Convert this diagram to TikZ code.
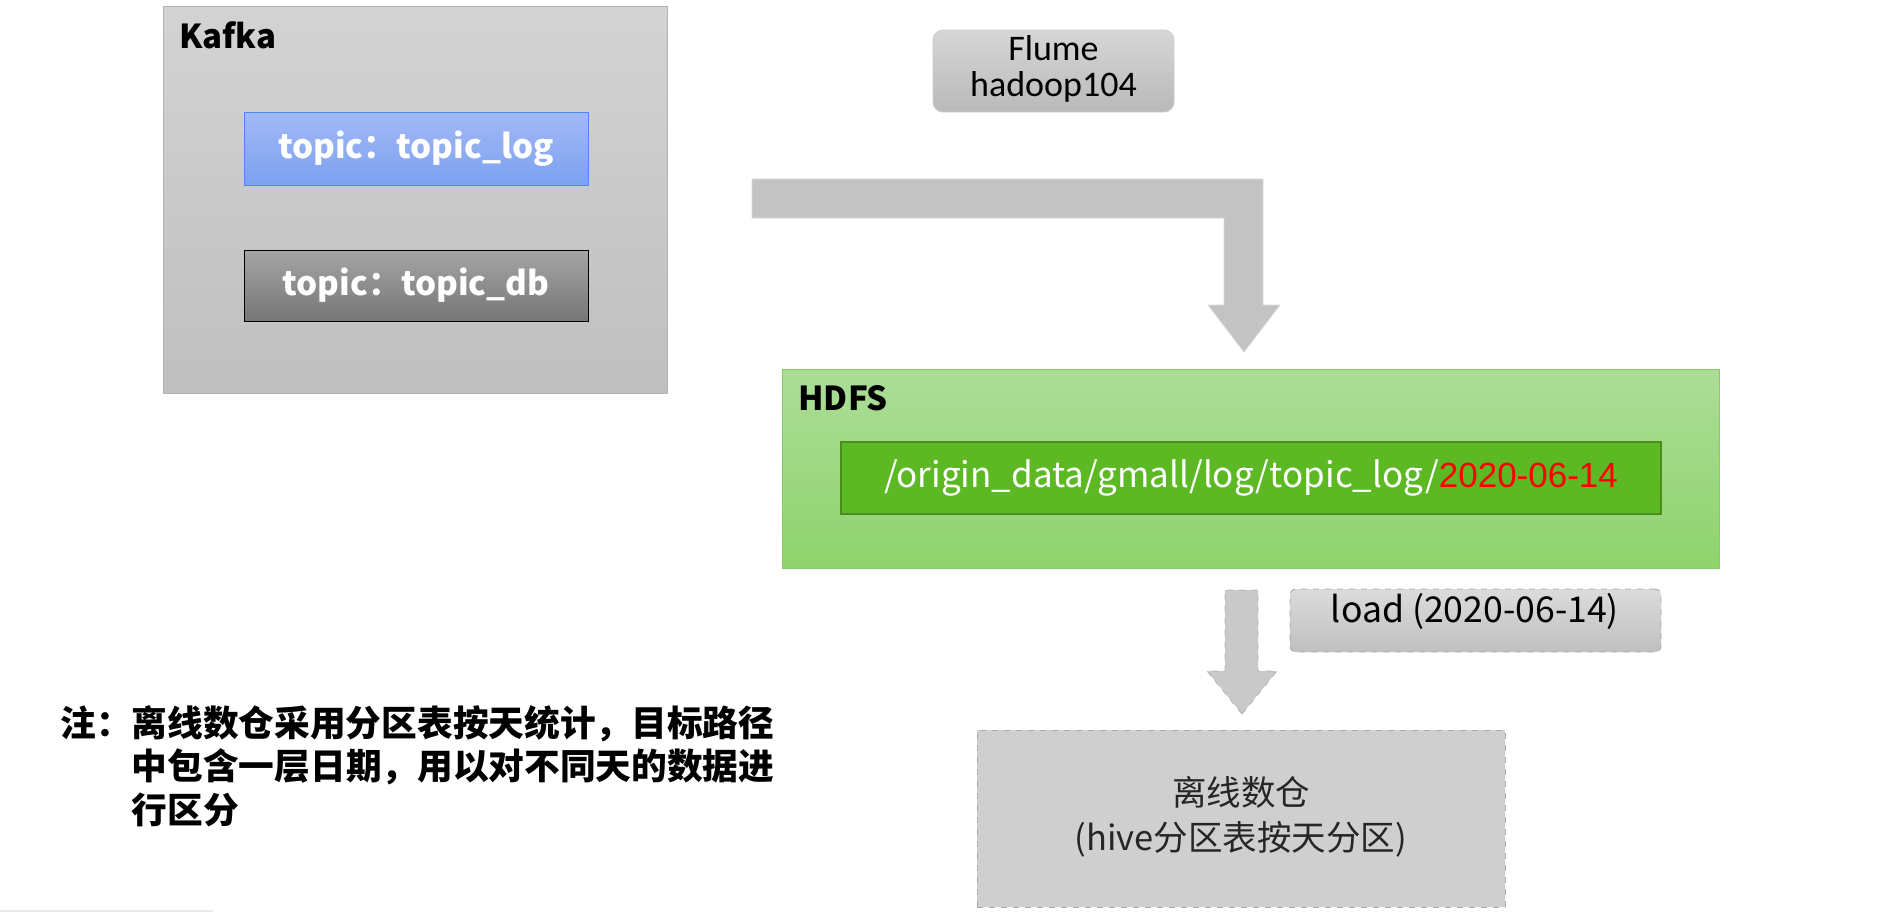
\documentclass[tikz,border=0pt]{standalone}
\usepackage{fontspec}
\setmainfont{Noto Sans CJK SC}
\newfontfamily\calfont{Carlito}
\newfontfamily\arialfont{Liberation Sans}
\usetikzlibrary{calc, positioning}

\definecolor{kafkaT}{HTML}{D3D3D3}
\definecolor{kafkaB}{HTML}{BFBFBF}
\definecolor{logT}{HTML}{A3B9F5}
\definecolor{logB}{HTML}{7BA1F0}
\definecolor{logL}{HTML}{4F86F7}
\definecolor{dbT}{HTML}{A5A5A5}
\definecolor{dbB}{HTML}{767676}
\definecolor{hdfsT}{HTML}{ACDD98}
\definecolor{hdfsB}{HTML}{8FD36D}
\definecolor{hdfsL}{HTML}{88CC66}
\definecolor{pathF}{HTML}{5CB923}
\definecolor{pathL}{HTML}{4A8C1E}
\definecolor{arrowF}{HTML}{C3C3C3}
\definecolor{dwF}{HTML}{D0CFCF}
\definecolor{dateRed}{HTML}{FF0000}

\tikzset{
  box/.style={rectangle, inner sep=0pt, outer sep=0pt},
  kafkabox/.style={box, top color=kafkaT, bottom color=kafkaB, draw=gray!60},
  logbox/.style={box, top color=logT, bottom color=logB, draw=logL, text=white,
    font=\bfseries\fontsize{16.6}{20}\selectfont},
  dbbox/.style={box, top color=dbT, bottom color=dbB, draw=black, text=white,
    font=\bfseries\fontsize{16.6}{20}\selectfont},
  flumebox/.style={box, rounded corners=5pt, top color=gray!32, bottom color=gray!55,
    draw=gray!40},
  hdfsbox/.style={box, top color=hdfsT, bottom color=hdfsB, draw=hdfsL},
  pathbox/.style={box, fill=pathF, draw=pathL, line width=0.8pt},
  loadbox/.style={box, rounded corners=3pt, top color=gray!28, bottom color=gray!50,
    draw=gray!70, dashed},
  dwbox/.style={box, fill=dwF, draw=gray!65, dashed},
  flowarrow/.style={fill=arrowF, draw=gray!30},
  loadarrow/.style={fill=gray!42, draw=gray!60, dashed},
  title/.style={inner sep=0pt, font=\bfseries\fontsize{16.5}{20}\selectfont},
  note/.style={inner sep=0pt, anchor=base west, font=\bfseries\fontsize{17.85}{21}\selectfont}
}

\begin{document}
\begin{tikzpicture}[x=0.5pt, y=-0.5pt]
        \useasboundingbox (0,0) rectangle (1892,912);
        % kafka side
        \node[kafkabox, anchor=north west, minimum width=252pt, minimum height=193.5pt] (kafka) at (163,6) {};
        \node[title, anchor=west] (kafkaLabel) at (179,35) {Kafka};
        \node[logbox, minimum width=172pt, minimum height=36.5pt] (topicLog) at (416,148.5) {topic：topic\_log};
        \node[dbbox, minimum width=172pt, minimum height=35.5pt] (topicDb) at (416,285.5) {topic：topic\_db};
        % flume
        \node[flumebox, minimum width=120.5pt, minimum height=41pt] (flume) at (1053.5,71) {};
        \node[inner sep=0pt, align=center, font=\calfont\fontsize{18}{18}\selectfont] (flumeText) at (1053.5,69) {Flume\\hadoop104};
        % hdfs
        \node[hdfsbox, anchor=north west, minimum width=468.5pt, minimum height=99.5pt] (hdfs) at (782,369) {};
        \node[title, anchor=west] (hdfsLabel) at (798,398) {HDFS};
        \node[pathbox, minimum width=410pt, minimum height=36pt, text=white,
          font=\fontsize{17.5}{20}\selectfont] (path) at (1251,478)
          {/origin\_data/gmall/log/topic\_log/{\arialfont\color{dateRed}2020-06-14}};
        \coordinate (flowL) at (752,179);
        \coordinate (flowTip) at ($(hdfs.north west)+(462,-17)$);
        \draw[flowarrow] (flowL) -- ++(511,0) -- ++(0,126) -- ++(17,0) -- (flowTip)
          -- ++(-36,-47) -- ++(16,0) -- ++(0,-87) -- ++(-472,0) -- cycle;
        % load into the warehouse
        \node[dwbox, anchor=north west, minimum width=264pt, minimum height=88.5pt] (dw) at (977,730) {};
        \node[inner sep=0pt, align=center, text=black!85, font=\fontsize{17.25}{22.5}\selectfont] (dwText) at (1241,817)
          {离线数仓\\(hive分区表按天分区)};
        \node[loadbox, anchor=north west, minimum width=185.5pt, minimum height=31.5pt] (load) at (1290,589) {};
        \node[inner sep=0pt, font=\fontsize{17.8}{20}\selectfont] (loadText) at (1475,611) {load (2020-06-14)};
        \coordinate (loadTip) at ($(dw.north)+(1,-16)$);
        \draw[loadarrow] (loadTip) -- ++(35,-43) -- ++(-19,0) -- ++(0,-81) -- ++(-33,0)
          -- ++(0,81) -- ++(-18,0) -- cycle;
        % note
        \node[note] (noteA) at (60,736) {注：离线数仓采用分区表按天统计，目标路径};
        \node[note] (noteB) at (131.4,779.5) {中包含一层日期，用以对不同天的数据进};
        \node[note] (noteC) at (131.4,823) {行区分};
        \draw[gray!18, line width=1pt] (0,911) -- (213,911);
\end{tikzpicture}
\end{document}
